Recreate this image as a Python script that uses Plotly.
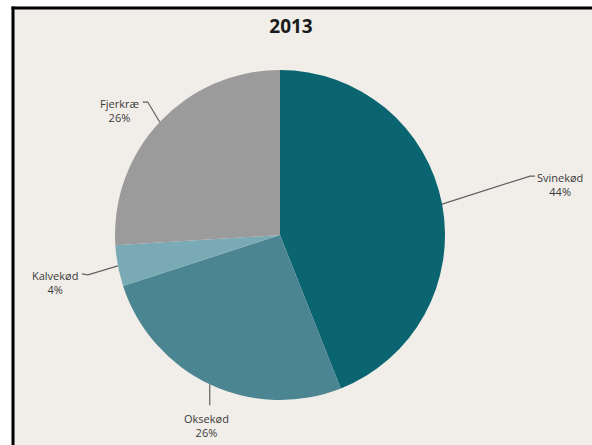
import math
import plotly.graph_objects as go

# ---- data ----
categories = ["Svinekød", "Oksekød", "Kalvekød", "Fjerkræ"]
values = [44, 26, 4, 26]
colors = ["#0b6571", "#4b8592", "#79aab5", "#9b9b9b"]
title_text = "2013"

# ---- layout geometry (pixels) ----
W, H = 592, 445
CX, CY, R = 280, 235, 165
BG = "#f1eee9"

# label text offsets from slice-edge anchor, and leader elbow offsets (pixels)
label_offsets = [(118, -20), (-3, 41), (-63, 17), (-40, -12)]
leader_paths = [
    [(88, -28), (93, -28)],
    [(0, 21)],
    [(-30, 9), (-36, 8)],
    [(-12, -20), (-17, -20)],
]

def px(x):
    return x / W

def py(y):
    return 1 - y / H

fig = go.Figure()
fig.add_trace(go.Pie(
    labels=categories,
    values=values,
    sort=False,
    direction="clockwise",
    rotation=0,
    marker=dict(colors=colors, line=dict(width=0)),
    textinfo="none",
    hoverinfo="label+percent",
    showlegend=False,
    domain=dict(x=[px(CX - R), px(CX + R)], y=[py(CY + R), py(CY - R)]),
))

total = sum(values)
annotations = []
shapes = [
    # white outer margin (left and top strips)
    dict(type="rect", xref="paper", yref="paper", x0=0, x1=px(12), y0=0, y1=1,
         fillcolor="white", line=dict(width=0), layer="below"),
    dict(type="rect", xref="paper", yref="paper", x0=0, x1=1, y0=py(7), y1=1,
         fillcolor="white", line=dict(width=0), layer="below"),
    # black frame edges (left and top)
    dict(type="line", xref="paper", yref="paper", x0=px(13), x1=px(13), y0=0, y1=py(6.5),
         line=dict(color="black", width=3), layer="below"),
    dict(type="line", xref="paper", yref="paper", x0=px(11.5), x1=1, y0=py(8), y1=py(8),
         line=dict(color="black", width=3), layer="below"),
]

cum = 0
for i, (cat, v) in enumerate(zip(categories, values)):
    mid = (cum + v / 2) / total * 2 * math.pi
    cum += v
    ex = CX + R * math.sin(mid)
    ey = CY - R * math.cos(mid)
    pct = round(v / total * 100)
    ox, oy = label_offsets[i]
    annotations.append(dict(
        x=px(ex + ox), y=py(ey + oy), xref="paper", yref="paper",
        text=f"{cat}<br>{pct}%", showarrow=False,
        xanchor="center", yanchor="middle", align="center",
        font=dict(family="Open Sans", size=11, color="#3a3a3a"),
    ))
    pts = [(ex, ey)] + [(ex + dx, ey + dy) for dx, dy in leader_paths[i]]
    path = "M " + " L ".join(f"{px(a)},{py(b)}" for a, b in pts)
    shapes.append(dict(type="path", xref="paper", yref="paper", path=path,
                       line=dict(color="#606060", width=1.2)))

fig.update_layout(
    width=W, height=H,
    margin=dict(l=0, r=0, t=0, b=0),
    paper_bgcolor=BG,
    plot_bgcolor=BG,
    title=dict(text=f"<b>{title_text}</b>", x=px(291), xanchor="center",
               y=py(26), yanchor="middle",
               font=dict(family="Open Sans", size=19, color="#1a1a1a")),
    annotations=annotations,
    shapes=shapes,
)

fig.write_html(
    "out.html",
    post_script="document.body.style.margin='0';document.body.style.overflow='hidden';"
                "document.documentElement.style.overflow='hidden';",
)
